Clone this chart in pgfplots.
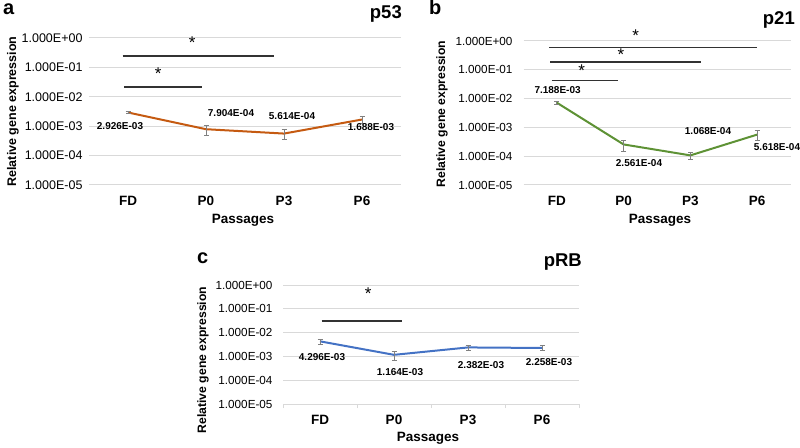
\documentclass[border=0pt]{standalone}
\usepackage{pgfplots}
\pgfplotsset{compat=1.18}
\usepackage{fontspec}
\setmainfont{Liberation Sans}
\definecolor{gridc}{RGB}{217,217,217}
\definecolor{lineA}{RGB}{197,90,17}
\definecolor{lineB}{RGB}{94,146,53}
\definecolor{lineC}{RGB}{68,114,196}
\definecolor{errc}{RGB}{128,128,128}
\definecolor{sigc}{RGB}{50,50,50}
\begin{document}
\begin{tikzpicture}
\path[use as bounding box] (0pt,0pt) rectangle (800pt,447pt);
% Panel a
\begin{axis}[scale only axis, ymode=log, xmin=-0.5, xmax=3.5, ymin=1e-5, ymax=1,
    axis line style={draw=none}, ymajorgrids, grid style={gridc, line width=1pt},
    major tick length=0pt, minor tick length=0pt, yminorticks=false, ytick pos=left,
    xtick={0,1,2,3}, xticklabels={FD,P0,P3,P6},
    ytick={1e-5,1e-4,1e-3,1e-2,1e-1,1},
    yticklabels={1.000E-05,1.000E-04,1.000E-03,1.000E-02,1.000E-01,1.000E+00},
    xticklabel style={font=\bfseries\fontsize{13.5}{15}\selectfont, yshift=-8pt},
    clip=false,
    at={(89pt,262pt)}, anchor=south west, width=312pt, height=147pt,
  yticklabel style={font=\fontsize{12.5}{14}\selectfont, xshift=-3pt}]
\addplot[color=lineA, line width=2pt, mark=none,
    error bars/.cd, y dir=both, y explicit,
    error bar style={errc, line width=0.8pt},
    error mark options={errc, line width=0.8pt, mark size=2.5pt, rotate=90}] coordinates {
 (0,2.926e-3) +- (0,2e-4)
 (1,7.904e-4) +- (0,3.1e-4)
 (2,5.614e-4) +- (0,2.1e-4)
 (3,1.688e-3) +- (0,4.6e-4)
};
\end{axis}
% Panel b
\begin{axis}[scale only axis, ymode=log, xmin=-0.5, xmax=3.5, ymin=1e-5, ymax=1,
    axis line style={draw=none}, ymajorgrids, grid style={gridc, line width=1pt},
    major tick length=0pt, minor tick length=0pt, yminorticks=false, ytick pos=left,
    xtick={0,1,2,3}, xticklabels={FD,P0,P3,P6},
    ytick={1e-5,1e-4,1e-3,1e-2,1e-1,1},
    yticklabels={1.000E-05,1.000E-04,1.000E-03,1.000E-02,1.000E-01,1.000E+00},
    xticklabel style={font=\bfseries\fontsize{13.5}{15}\selectfont, yshift=-8pt},
    clip=false,
    at={(523.5pt,262pt)}, anchor=south west, width=267pt, height=144pt,
  yticklabel style={font=\fontsize{11.7}{13}\selectfont, xshift=-7.5pt}]
\addplot[color=lineB, line width=2pt, mark=none,
    error bars/.cd, y dir=both, y explicit,
    error bar style={errc, line width=0.8pt},
    error mark options={errc, line width=0.8pt, mark size=2.5pt, rotate=90}] coordinates {
 (0,7.188e-3) +- (0,1e-3)
 (1,2.561e-4) +- (0,1.1e-4)
 (2,1.068e-4) +- (0,3e-5)
 (3,5.618e-4) +- (0,2.1e-4)
};
\end{axis}
% Panel c
\begin{axis}[scale only axis, ymode=log, xmin=-0.5, xmax=3.5, ymin=1e-5, ymax=1,
    axis line style={draw=none}, ymajorgrids, grid style={gridc, line width=1pt},
    major tick length=0pt, minor tick length=0pt, yminorticks=false, ytick pos=left,
    xtick={0,1,2,3}, xticklabels={FD,P0,P3,P6},
    ytick={1e-5,1e-4,1e-3,1e-2,1e-1,1},
    yticklabels={1.000E-05,1.000E-04,1.000E-03,1.000E-02,1.000E-01,1.000E+00},
    xticklabel style={font=\bfseries\fontsize{13.5}{15}\selectfont, yshift=-8pt},
    clip=false,
    at={(283pt,43pt)}, anchor=south west, width=296pt, height=119pt,
  yticklabel style={font=\fontsize{11.7}{13}\selectfont, xshift=-7pt},
  extra x ticks={-0.5,0.5,1.5,2.5,3.5}, extra x tick labels={},
  extra x tick style={major tick length=4pt, tick align=outside, xtick pos=bottom,
    tick style={gridc, line width=1pt}}]
\addplot[color=lineC, line width=2pt, mark=none,
    error bars/.cd, y dir=both, y explicit,
    error bar style={errc, line width=0.8pt},
    error mark options={errc, line width=0.8pt, mark size=2.5pt, rotate=90}] coordinates {
 (0,4.296e-3) +- (0,1e-3)
 (1,1.164e-3) +- (0,5e-4)
 (2,2.382e-3) +- (0,6e-4)
 (3,2.258e-3) +- (0,5.5e-4)
};
\end{axis}
\begin{scope}[x=1pt,y=1pt]
% panel letters and titles
\node[anchor=base west, font=\bfseries\fontsize{20}{22}\selectfont, inner sep=0] at (3,432) {a};
\node[anchor=base west, font=\bfseries\fontsize{20}{22}\selectfont, inner sep=0] at (429,432) {b};
\node[anchor=base west, font=\bfseries\fontsize{20}{22}\selectfont, inner sep=0] at (197,183) {c};
\node[anchor=base east, font=\bfseries\fontsize{18.5}{20}\selectfont, inner sep=0] at (402,428.7) {p53};
\node[anchor=base east, font=\bfseries\fontsize{18.5}{20}\selectfont, inner sep=0] at (795,422) {p21};
\node[anchor=base east, font=\bfseries\fontsize{18.5}{20}\selectfont, inner sep=0] at (582,180.3) {pRB};
% axis labels
\node[rotate=90, font=\bfseries\fontsize{12.5}{14}\selectfont] at (13,335.5) {Relative gene expression};
\node[rotate=90, font=\bfseries\fontsize{12.2}{14}\selectfont] at (442,333) {Relative gene expression};
\node[rotate=90, font=\bfseries\fontsize{12.2}{14}\selectfont] at (203,87) {Relative gene expression};
\node[font=\bfseries\fontsize{13.5}{15}\selectfont] at (243,227) {Passages};
\node[font=\bfseries\fontsize{13.5}{15}\selectfont] at (660,227) {Passages};
\node[font=\bfseries\fontsize{13.5}{15}\selectfont] at (428,9) {Passages};
% data labels
\begin{scope}[every node/.style={font=\bfseries\fontsize{10}{12}\selectfont, inner sep=0}]
\node at (120,321) {2.926E-03};
\node at (231,334.3) {7.904E-04};
\node at (292,331) {5.614E-04};
\node at (371,320.3) {1.688E-03};
\node at (557.6,357) {7.188E-03};
\node at (639,283.7) {2.561E-04};
\node at (708,316.3) {1.068E-04};
\node at (777,300.3) {5.618E-04};
\node at (322,90.3) {4.296E-03};
\node at (400,75.3) {1.164E-03};
\node at (481,82) {2.382E-03};
\node at (549,84.7) {2.258E-03};
\end{scope}
% significance bars
\begin{scope}[sigc, line width=1.5pt]
\draw (124,360) -- (201.7,360);
\draw (122.7,391) -- (274,391);
\draw (551.7,366.3) -- (618.3,366.3);
\draw (550,385) -- (700.7,385);
\draw (549.3,399.7) -- (756.7,399.7);
\draw (321.7,126) -- (402.3,126);
\end{scope}
\begin{scope}[every node/.style={font=\fontsize{17}{19}\selectfont, inner sep=0}]
\node at (158.3,373) {*};
\node at (192.3,404.3) {*};
\node at (581.7,376) {*};
\node at (621,392.7) {*};
\node at (635.7,411) {*};
\node at (368.3,153) {*};
\end{scope}
\end{scope}
\end{tikzpicture}
\end{document}
